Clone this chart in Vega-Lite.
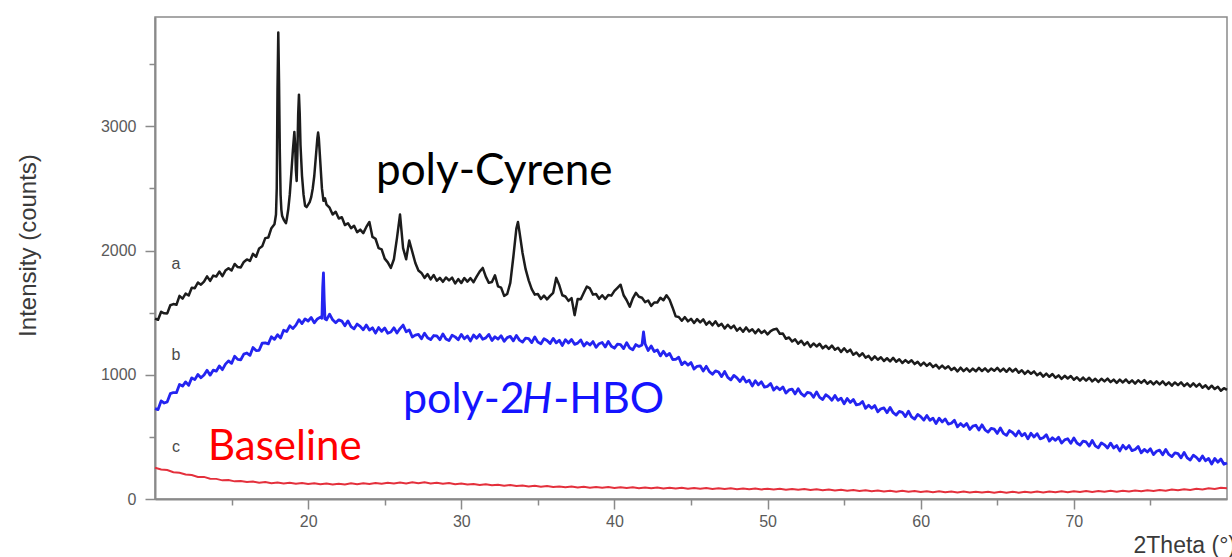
{
  "$schema": "https://vega.github.io/schema/vega-lite/v6.json",
  "width": 1072,
  "height": 482,
  "autosize": {"type": "none"},
  "padding": {"left": 155, "top": 17, "right": 5, "bottom": 58},
  "background": "white",
  "config": {
    "view": {"stroke": "#8a8a8a", "strokeWidth": 1.5},
    "axis": {"grid": false, "domainColor": "#8a8a8a", "domainWidth": 2, "tickColor": "#8a8a8a", "tickWidth": 1.5, "labelColor": "#5a5a5a", "labelFont": "Liberation Sans", "labelFontSize": 16, "titleFont": "Liberation Sans", "titleFontSize": 24, "titleFontWeight": "normal", "titleColor": "#3a3a3a"}
  },
  "datasets": {
    "a": [
      {"t":10,"v":1452},{"t":10.2,"v":1443},{"t":10.4,"v":1507},{"t":10.6,"v":1495},{"t":10.8,"v":1494},{"t":11,"v":1560},{"t":11.2,"v":1569},{"t":11.4,"v":1563},{"t":11.6,"v":1635},{"t":11.8,"v":1613},
      {"t":12,"v":1653},{"t":12.2,"v":1638},{"t":12.4,"v":1701},{"t":12.6,"v":1697},{"t":12.8,"v":1743},{"t":13,"v":1725},{"t":13.2,"v":1749},{"t":13.4,"v":1792},{"t":13.6,"v":1756},{"t":13.8,"v":1798},
      {"t":14,"v":1791},{"t":14.2,"v":1831},{"t":14.4,"v":1794},{"t":14.6,"v":1839},{"t":14.8,"v":1858},{"t":15,"v":1839},{"t":15.2,"v":1892},{"t":15.4,"v":1867},{"t":15.6,"v":1864},{"t":15.8,"v":1908},
      {"t":16,"v":1928},{"t":16.2,"v":1916},{"t":16.4,"v":1974},{"t":16.6,"v":1950},{"t":16.8,"v":2017},{"t":17,"v":2034},{"t":17.2,"v":2100},{"t":17.4,"v":2105},{"t":17.6,"v":2180},{"t":17.8,"v":2212},
      {"t":17.85,"v":2250},{"t":17.9,"v":2290},{"t":17.95,"v":2500},{"t":18,"v":3300},{"t":18.05,"v":3755},{"t":18.1,"v":3350},{"t":18.15,"v":2800},{"t":18.2,"v":2450},{"t":18.25,"v":2330},{"t":18.3,"v":2280},
      {"t":18.4,"v":2250},{"t":18.5,"v":2230},{"t":18.55,"v":2220},{"t":18.6,"v":2250},{"t":18.7,"v":2330},{"t":18.8,"v":2450},{"t":18.9,"v":2620},{"t":19,"v":2800},{"t":19.1,"v":2955},{"t":19.15,"v":2850},
      {"t":19.2,"v":2650},{"t":19.25,"v":2560},{"t":19.3,"v":2800},{"t":19.35,"v":3100},{"t":19.4,"v":3255},{"t":19.45,"v":3100},{"t":19.5,"v":2850},{"t":19.6,"v":2600},{"t":19.7,"v":2450},{"t":19.8,"v":2360},
      {"t":19.9,"v":2350},{"t":20,"v":2370},{"t":20.1,"v":2390},{"t":20.2,"v":2430},{"t":20.3,"v":2500},{"t":20.4,"v":2600},{"t":20.5,"v":2750},{"t":20.6,"v":2900},{"t":20.65,"v":2950},{"t":20.7,"v":2900},
      {"t":20.8,"v":2700},{"t":20.9,"v":2500},{"t":21,"v":2400},{"t":21.1,"v":2420},{"t":21.2,"v":2370},{"t":21.4,"v":2345},{"t":21.6,"v":2290},{"t":21.8,"v":2312},{"t":22,"v":2258},{"t":22.2,"v":2268},
      {"t":22.4,"v":2205},{"t":22.6,"v":2220},{"t":22.8,"v":2180},{"t":23,"v":2200},{"t":23.2,"v":2148},{"t":23.4,"v":2168},{"t":23.6,"v":2140},{"t":23.8,"v":2190},{"t":24,"v":2230},{"t":24.2,"v":2110},
      {"t":24.4,"v":2095},{"t":24.6,"v":2020},{"t":24.8,"v":2010},{"t":25,"v":1935},{"t":25.2,"v":1905},{"t":25.4,"v":1860},{"t":25.6,"v":1930},{"t":25.8,"v":2100},{"t":26,"v":2290},{"t":26.2,"v":2020},
      {"t":26.4,"v":1930},{"t":26.6,"v":2080},{"t":26.8,"v":1990},{"t":27,"v":1900},{"t":27.2,"v":1840},{"t":27.4,"v":1820},{"t":27.6,"v":1780},{"t":27.8,"v":1810},{"t":28,"v":1768},{"t":28.2,"v":1803},
      {"t":28.4,"v":1757},{"t":28.6,"v":1780},{"t":28.8,"v":1748},{"t":29,"v":1783},{"t":29.2,"v":1760},{"t":29.4,"v":1782},{"t":29.6,"v":1735},{"t":29.8,"v":1770},{"t":30,"v":1739},{"t":30.2,"v":1779},
      {"t":30.4,"v":1750},{"t":30.6,"v":1778},{"t":30.8,"v":1745},{"t":31,"v":1790},{"t":31.2,"v":1830},{"t":31.4,"v":1860},{"t":31.6,"v":1790},{"t":31.8,"v":1740},{"t":32,"v":1747},{"t":32.2,"v":1800},
      {"t":32.4,"v":1712},{"t":32.6,"v":1702},{"t":32.8,"v":1635},{"t":33,"v":1650},{"t":33.2,"v":1740},{"t":33.4,"v":1950},{"t":33.6,"v":2180},{"t":33.7,"v":2230},{"t":33.8,"v":2150},{"t":34,"v":1980},
      {"t":34.2,"v":1850},{"t":34.4,"v":1760},{"t":34.6,"v":1690},{"t":34.8,"v":1645},{"t":35,"v":1650},{"t":35.2,"v":1610},{"t":35.4,"v":1637},{"t":35.6,"v":1607},{"t":35.8,"v":1635},{"t":36,"v":1660},
      {"t":36.2,"v":1780},{"t":36.4,"v":1720},{"t":36.6,"v":1640},{"t":36.8,"v":1630},{"t":37,"v":1595},{"t":37.2,"v":1617},{"t":37.4,"v":1480},{"t":37.6,"v":1610},{"t":37.8,"v":1608},{"t":38,"v":1660},
      {"t":38.2,"v":1710},{"t":38.4,"v":1695},{"t":38.6,"v":1645},{"t":38.8,"v":1650},{"t":39,"v":1612},{"t":39.2,"v":1640},{"t":39.4,"v":1610},{"t":39.6,"v":1642},{"t":39.8,"v":1637},{"t":40,"v":1675},
      {"t":40.2,"v":1700},{"t":40.4,"v":1725},{"t":40.6,"v":1640},{"t":40.8,"v":1600},{"t":41,"v":1548},{"t":41.2,"v":1615},{"t":41.4,"v":1660},{"t":41.6,"v":1628},{"t":41.8,"v":1620},{"t":42,"v":1585},
      {"t":42.2,"v":1598},{"t":42.4,"v":1555},{"t":42.6,"v":1582},{"t":42.8,"v":1582},{"t":43,"v":1620},{"t":43.2,"v":1600},{"t":43.4,"v":1640},{"t":43.6,"v":1605},{"t":43.8,"v":1540},{"t":44,"v":1470},
      {"t":44.2,"v":1465},{"t":44.4,"v":1435},{"t":44.6,"v":1464},{"t":44.8,"v":1430},{"t":45,"v":1450},{"t":45.2,"v":1417},{"t":45.4,"v":1448},{"t":45.6,"v":1422},{"t":45.8,"v":1446},{"t":46,"v":1404},
      {"t":46.2,"v":1428},{"t":46.4,"v":1398},{"t":46.6,"v":1430},{"t":46.8,"v":1393},{"t":47,"v":1410},{"t":47.2,"v":1373},{"t":47.4,"v":1403},{"t":47.6,"v":1375},{"t":47.8,"v":1396},{"t":48,"v":1355},
      {"t":48.2,"v":1377},{"t":48.4,"v":1346},{"t":48.6,"v":1381},{"t":48.8,"v":1348},{"t":49,"v":1366},{"t":49.2,"v":1335},{"t":49.4,"v":1365},{"t":49.6,"v":1336},{"t":49.8,"v":1355},{"t":50,"v":1325},
      {"t":50.2,"v":1352},{"t":50.4,"v":1365},{"t":50.6,"v":1370},{"t":50.8,"v":1330},{"t":51,"v":1332},{"t":51.2,"v":1290},{"t":51.4,"v":1300},{"t":51.6,"v":1268},{"t":51.8,"v":1285},{"t":52,"v":1250},
      {"t":52.2,"v":1274},{"t":52.4,"v":1240},{"t":52.6,"v":1263},{"t":52.8,"v":1224},{"t":53,"v":1252},{"t":53.2,"v":1228},{"t":53.4,"v":1250},{"t":53.6,"v":1213},{"t":53.8,"v":1234},{"t":54,"v":1208},
      {"t":54.2,"v":1235},{"t":54.4,"v":1201},{"t":54.6,"v":1218},{"t":54.8,"v":1184},{"t":55,"v":1213},{"t":55.2,"v":1183},{"t":55.4,"v":1202},{"t":55.6,"v":1161},{"t":55.8,"v":1179},{"t":56,"v":1150},
      {"t":56.2,"v":1173},{"t":56.4,"v":1138},{"t":56.6,"v":1152},{"t":56.8,"v":1120},{"t":57,"v":1148},{"t":57.2,"v":1121},{"t":57.4,"v":1141},{"t":57.6,"v":1111},{"t":57.8,"v":1133},{"t":58,"v":1108},
      {"t":58.2,"v":1136},{"t":58.4,"v":1105},{"t":58.6,"v":1125},{"t":58.8,"v":1095},{"t":59,"v":1118},{"t":59.2,"v":1097},{"t":59.4,"v":1117},{"t":59.6,"v":1086},{"t":59.8,"v":1104},{"t":60,"v":1075},
      {"t":60.2,"v":1098},{"t":60.4,"v":1072},{"t":60.6,"v":1093},{"t":60.8,"v":1062},{"t":61,"v":1080},{"t":61.2,"v":1051},{"t":61.4,"v":1074},{"t":61.6,"v":1050},{"t":61.8,"v":1069},{"t":62,"v":1038},
      {"t":62.2,"v":1056},{"t":62.4,"v":1027},{"t":62.6,"v":1057},{"t":62.8,"v":1029},{"t":63,"v":1051},{"t":63.2,"v":1025},{"t":63.4,"v":1050},{"t":63.6,"v":1028},{"t":63.8,"v":1055},{"t":64,"v":1030},
      {"t":64.2,"v":1052},{"t":64.4,"v":1025},{"t":64.6,"v":1050},{"t":64.8,"v":1032},{"t":65,"v":1055},{"t":65.2,"v":1027},{"t":65.4,"v":1049},{"t":65.6,"v":1024},{"t":65.8,"v":1051},{"t":66,"v":1026},
      {"t":66.2,"v":1048},{"t":66.4,"v":1017},{"t":66.6,"v":1036},{"t":66.8,"v":1007},{"t":67,"v":1031},{"t":67.2,"v":1008},{"t":67.4,"v":1027},{"t":67.6,"v":996},{"t":67.8,"v":1015},{"t":68,"v":985},
      {"t":68.2,"v":1009},{"t":68.4,"v":984},{"t":68.6,"v":1006},{"t":68.8,"v":976},{"t":69,"v":995},{"t":69.2,"v":967},{"t":69.4,"v":992},{"t":69.6,"v":970},{"t":69.8,"v":990},{"t":70,"v":960},
      {"t":70.2,"v":980},{"t":70.4,"v":953},{"t":70.6,"v":978},{"t":70.8,"v":953},{"t":71,"v":976},{"t":71.2,"v":947},{"t":71.4,"v":968},{"t":71.6,"v":942},{"t":71.8,"v":968},{"t":72,"v":947},
      {"t":72.2,"v":969},{"t":72.4,"v":941},{"t":72.6,"v":961},{"t":72.8,"v":935},{"t":73,"v":961},{"t":73.2,"v":938},{"t":73.4,"v":962},{"t":73.6,"v":934},{"t":73.8,"v":955},{"t":74,"v":929},
      {"t":74.2,"v":956},{"t":74.4,"v":935},{"t":74.6,"v":957},{"t":74.8,"v":928},{"t":75,"v":948},{"t":75.2,"v":922},{"t":75.4,"v":947},{"t":75.6,"v":923},{"t":75.8,"v":947},{"t":76,"v":918},
      {"t":76.2,"v":939},{"t":76.4,"v":912},{"t":76.6,"v":938},{"t":76.8,"v":917},{"t":77,"v":939},{"t":77.2,"v":910},{"t":77.4,"v":931},{"t":77.6,"v":905},{"t":77.8,"v":931},{"t":78,"v":905},
      {"t":78.2,"v":927},{"t":78.4,"v":896},{"t":78.6,"v":915},{"t":78.8,"v":887},{"t":79,"v":912},{"t":79.2,"v":885},{"t":79.4,"v":903},{"t":79.6,"v":872},{"t":79.8,"v":892},{"t":80,"v":878}
    ],
    "b": [
      {"t":10,"v":727},{"t":10.2,"v":720},{"t":10.4,"v":790},{"t":10.6,"v":773},{"t":10.8,"v":782},{"t":11,"v":848},{"t":11.2,"v":857},{"t":11.4,"v":856},{"t":11.6,"v":922},{"t":11.8,"v":909},
      {"t":12,"v":943},{"t":12.2,"v":915},{"t":12.4,"v":975},{"t":12.6,"v":961},{"t":12.8,"v":1002},{"t":13,"v":976},{"t":13.2,"v":998},{"t":13.4,"v":1036},{"t":13.6,"v":997},{"t":13.8,"v":1037},
      {"t":14,"v":1029},{"t":14.2,"v":1071},{"t":14.4,"v":1041},{"t":14.6,"v":1086},{"t":14.8,"v":1112},{"t":15,"v":1092},{"t":15.2,"v":1149},{"t":15.4,"v":1124},{"t":15.6,"v":1121},{"t":15.8,"v":1166},
      {"t":16,"v":1175},{"t":16.2,"v":1156},{"t":16.4,"v":1219},{"t":16.6,"v":1195},{"t":16.8,"v":1197},{"t":17,"v":1255},{"t":17.2,"v":1257},{"t":17.4,"v":1249},{"t":17.6,"v":1306},{"t":17.8,"v":1285},
      {"t":18,"v":1322},{"t":18.2,"v":1296},{"t":18.4,"v":1358},{"t":18.6,"v":1348},{"t":18.8,"v":1394},{"t":19,"v":1372},{"t":19.2,"v":1400},{"t":19.4,"v":1444},{"t":19.6,"v":1412},{"t":19.8,"v":1450},
      {"t":20,"v":1433},{"t":20.2,"v":1461},{"t":20.4,"v":1418},{"t":20.6,"v":1449},{"t":20.8,"v":1464},{"t":20.9,"v":1455},{"t":20.95,"v":1700},{"t":21,"v":1821},{"t":21.05,"v":1600},{"t":21.1,"v":1450},
      {"t":21.2,"v":1442},{"t":21.4,"v":1488},{"t":21.6,"v":1442},{"t":21.8,"v":1418},{"t":22,"v":1442},{"t":22.2,"v":1432},{"t":22.4,"v":1394},{"t":22.6,"v":1434},{"t":22.8,"v":1388},{"t":23,"v":1370},
      {"t":23.2,"v":1408},{"t":23.4,"v":1390},{"t":23.6,"v":1362},{"t":23.8,"v":1400},{"t":24,"v":1360},{"t":24.2,"v":1378},{"t":24.4,"v":1335},{"t":24.6,"v":1380},{"t":24.8,"v":1350},{"t":25,"v":1376},
      {"t":25.2,"v":1334},{"t":25.4,"v":1344},{"t":25.6,"v":1378},{"t":25.8,"v":1336},{"t":26,"v":1372},{"t":26.2,"v":1400},{"t":26.4,"v":1346},{"t":26.6,"v":1361},{"t":26.8,"v":1304},{"t":27,"v":1319},
      {"t":27.2,"v":1325},{"t":27.4,"v":1290},{"t":27.6,"v":1335},{"t":27.8,"v":1298},{"t":28,"v":1283},{"t":28.2,"v":1316},{"t":28.4,"v":1313},{"t":28.6,"v":1282},{"t":28.8,"v":1329},{"t":29,"v":1288},
      {"t":29.2,"v":1275},{"t":29.4,"v":1318},{"t":29.6,"v":1305},{"t":29.8,"v":1282},{"t":30,"v":1325},{"t":30.2,"v":1290},{"t":30.4,"v":1312},{"t":30.6,"v":1272},{"t":30.8,"v":1320},{"t":31,"v":1294},
      {"t":31.2,"v":1324},{"t":31.4,"v":1286},{"t":31.6,"v":1297},{"t":31.8,"v":1325},{"t":32,"v":1276},{"t":32.2,"v":1306},{"t":32.4,"v":1287},{"t":32.6,"v":1314},{"t":32.8,"v":1270},{"t":33,"v":1299},
      {"t":33.2,"v":1309},{"t":33.4,"v":1273},{"t":33.6,"v":1317},{"t":33.8,"v":1279},{"t":34,"v":1263},{"t":34.2,"v":1295},{"t":34.4,"v":1291},{"t":34.6,"v":1259},{"t":34.8,"v":1305},{"t":35,"v":1263},
      {"t":35.2,"v":1249},{"t":35.4,"v":1290},{"t":35.6,"v":1276},{"t":35.8,"v":1252},{"t":36,"v":1293},{"t":36.2,"v":1257},{"t":36.4,"v":1278},{"t":36.6,"v":1236},{"t":36.8,"v":1283},{"t":37,"v":1256},
      {"t":37.2,"v":1284},{"t":37.4,"v":1245},{"t":37.6,"v":1255},{"t":37.8,"v":1281},{"t":38,"v":1232},{"t":38.2,"v":1260},{"t":38.4,"v":1240},{"t":38.6,"v":1267},{"t":38.8,"v":1221},{"t":39,"v":1250},
      {"t":39.2,"v":1260},{"t":39.4,"v":1224},{"t":39.6,"v":1268},{"t":39.8,"v":1230},{"t":40,"v":1214},{"t":40.2,"v":1246},{"t":40.4,"v":1243},{"t":40.6,"v":1211},{"t":40.8,"v":1258},{"t":41,"v":1216},
      {"t":41.2,"v":1202},{"t":41.4,"v":1243},{"t":41.6,"v":1228},{"t":41.8,"v":1240},{"t":41.9,"v":1345},{"t":42,"v":1250},{"t":42.2,"v":1195},{"t":42.4,"v":1232},{"t":42.6,"v":1187},{"t":42.8,"v":1200},
      {"t":43,"v":1152},{"t":43.2,"v":1189},{"t":43.4,"v":1152},{"t":43.6,"v":1172},{"t":43.8,"v":1123},{"t":44,"v":1124},{"t":44.2,"v":1141},{"t":44.4,"v":1082},{"t":44.6,"v":1104},{"t":44.8,"v":1078},
      {"t":45,"v":1098},{"t":45.2,"v":1046},{"t":45.4,"v":1068},{"t":45.6,"v":1072},{"t":45.8,"v":1030},{"t":46,"v":1068},{"t":46.2,"v":1025},{"t":46.4,"v":1004},{"t":46.6,"v":1031},{"t":46.8,"v":1022},
      {"t":47,"v":985},{"t":47.2,"v":1026},{"t":47.4,"v":979},{"t":47.6,"v":959},{"t":47.8,"v":995},{"t":48,"v":975},{"t":48.2,"v":946},{"t":48.4,"v":982},{"t":48.6,"v":941},{"t":48.8,"v":956},
      {"t":49,"v":910},{"t":49.2,"v":952},{"t":49.4,"v":919},{"t":49.6,"v":943},{"t":49.8,"v":900},{"t":50,"v":907},{"t":50.2,"v":930},{"t":50.4,"v":877},{"t":50.6,"v":902},{"t":50.8,"v":879},
      {"t":51,"v":902},{"t":51.2,"v":853},{"t":51.4,"v":878},{"t":51.6,"v":885},{"t":51.8,"v":846},{"t":52,"v":888},{"t":52.2,"v":848},{"t":52.4,"v":829},{"t":52.6,"v":859},{"t":52.8,"v":853},
      {"t":53,"v":819},{"t":53.2,"v":862},{"t":53.4,"v":818},{"t":53.6,"v":801},{"t":53.8,"v":839},{"t":54,"v":822},{"t":54.2,"v":795},{"t":54.4,"v":834},{"t":54.6,"v":794},{"t":54.8,"v":812},
      {"t":55,"v":767},{"t":55.2,"v":809},{"t":55.4,"v":777},{"t":55.6,"v":801},{"t":55.8,"v":757},{"t":56,"v":763},{"t":56.2,"v":785},{"t":56.4,"v":730},{"t":56.6,"v":754},{"t":56.8,"v":730},
      {"t":57,"v":752},{"t":57.2,"v":702},{"t":57.4,"v":726},{"t":57.6,"v":733},{"t":57.8,"v":695},{"t":58,"v":736},{"t":58.2,"v":695},{"t":58.4,"v":676},{"t":58.6,"v":705},{"t":58.8,"v":698},
      {"t":59,"v":663},{"t":59.2,"v":706},{"t":59.4,"v":661},{"t":59.6,"v":643},{"t":59.8,"v":681},{"t":60,"v":663},{"t":60.2,"v":635},{"t":60.4,"v":673},{"t":60.6,"v":634},{"t":60.8,"v":651},
      {"t":61,"v":607},{"t":61.2,"v":650},{"t":61.4,"v":620},{"t":61.6,"v":645},{"t":61.8,"v":603},{"t":62,"v":610},{"t":62.2,"v":634},{"t":62.4,"v":581},{"t":62.6,"v":607},{"t":62.8,"v":584},
      {"t":63,"v":608},{"t":63.2,"v":560},{"t":63.4,"v":586},{"t":63.6,"v":594},{"t":63.8,"v":555},{"t":64,"v":597},{"t":64.2,"v":557},{"t":64.4,"v":539},{"t":64.6,"v":569},{"t":64.8,"v":562},
      {"t":65,"v":528},{"t":65.2,"v":572},{"t":65.4,"v":528},{"t":65.6,"v":512},{"t":65.8,"v":551},{"t":66,"v":535},{"t":66.2,"v":508},{"t":66.4,"v":548},{"t":66.6,"v":509},{"t":66.8,"v":528},
      {"t":67,"v":484},{"t":67.2,"v":529},{"t":67.4,"v":499},{"t":67.6,"v":526},{"t":67.8,"v":484},{"t":68,"v":493},{"t":68.2,"v":518},{"t":68.4,"v":466},{"t":68.6,"v":493},{"t":68.8,"v":472},
      {"t":69,"v":497},{"t":69.2,"v":450},{"t":69.4,"v":476},{"t":69.6,"v":485},{"t":69.8,"v":448},{"t":70,"v":491},{"t":70.2,"v":451},{"t":70.4,"v":434},{"t":70.6,"v":465},{"t":70.8,"v":459},
      {"t":71,"v":426},{"t":71.2,"v":471},{"t":71.4,"v":428},{"t":71.6,"v":412},{"t":71.8,"v":452},{"t":72,"v":436},{"t":72.2,"v":410},{"t":72.4,"v":450},{"t":72.6,"v":411},{"t":72.8,"v":430},
      {"t":73,"v":387},{"t":73.2,"v":432},{"t":73.4,"v":403},{"t":73.6,"v":430},{"t":73.8,"v":389},{"t":74,"v":398},{"t":74.2,"v":423},{"t":74.4,"v":372},{"t":74.6,"v":399},{"t":74.8,"v":378},
      {"t":75,"v":404},{"t":75.2,"v":357},{"t":75.4,"v":384},{"t":75.6,"v":393},{"t":75.8,"v":356},{"t":76,"v":399},{"t":76.2,"v":359},{"t":76.4,"v":341},{"t":76.6,"v":371},{"t":76.8,"v":365},
      {"t":77,"v":331},{"t":77.2,"v":375},{"t":77.4,"v":331},{"t":77.6,"v":314},{"t":77.8,"v":353},{"t":78,"v":335},{"t":78.2,"v":308},{"t":78.4,"v":347},{"t":78.6,"v":308},{"t":78.8,"v":326},
      {"t":79,"v":282},{"t":79.2,"v":326},{"t":79.4,"v":296},{"t":79.6,"v":322},{"t":79.8,"v":280},{"t":80,"v":290}
    ],
    "c": [
      {"t":10,"v":252},{"t":10.4,"v":238},{"t":10.8,"v":233},{"t":11.2,"v":215},{"t":11.6,"v":212},{"t":12,"v":198},{"t":12.4,"v":193},{"t":12.8,"v":178},{"t":13.2,"v":178},{"t":13.6,"v":163},
      {"t":14,"v":162},{"t":14.4,"v":150},{"t":14.8,"v":152},{"t":15.2,"v":142},{"t":15.6,"v":145},{"t":16,"v":137},{"t":16.4,"v":140},{"t":16.8,"v":131},{"t":17.2,"v":136},{"t":17.6,"v":127},
      {"t":18,"v":133},{"t":18.4,"v":124},{"t":18.8,"v":131},{"t":19.2,"v":122},{"t":19.6,"v":128},{"t":20,"v":120},{"t":20.4,"v":127},{"t":20.8,"v":118},{"t":21.2,"v":124},{"t":21.6,"v":116},
      {"t":22,"v":123},{"t":22.4,"v":117},{"t":22.8,"v":126},{"t":23.2,"v":119},{"t":23.6,"v":127},{"t":24,"v":121},{"t":24.4,"v":129},{"t":24.8,"v":122},{"t":25.2,"v":130},{"t":25.6,"v":124},
      {"t":26,"v":132},{"t":26.4,"v":125},{"t":26.8,"v":134},{"t":27.2,"v":126},{"t":27.6,"v":135},{"t":28,"v":125},{"t":28.4,"v":131},{"t":28.8,"v":122},{"t":29.2,"v":128},{"t":29.6,"v":119},
      {"t":30,"v":124},{"t":30.4,"v":116},{"t":30.8,"v":121},{"t":31.2,"v":113},{"t":31.6,"v":118},{"t":32,"v":110},{"t":32.4,"v":115},{"t":32.8,"v":107},{"t":33.2,"v":112},{"t":33.6,"v":104},
      {"t":34,"v":109},{"t":34.4,"v":101},{"t":34.8,"v":106},{"t":35.2,"v":99},{"t":35.6,"v":104},{"t":36,"v":96},{"t":36.4,"v":101},{"t":36.8,"v":94},{"t":37.2,"v":100},{"t":37.6,"v":92},
      {"t":38,"v":98},{"t":38.4,"v":91},{"t":38.8,"v":97},{"t":39.2,"v":90},{"t":39.6,"v":96},{"t":40,"v":89},{"t":40.4,"v":95},{"t":40.8,"v":88},{"t":41.2,"v":94},{"t":41.6,"v":87},
      {"t":42,"v":93},{"t":42.4,"v":86},{"t":42.8,"v":92},{"t":43.2,"v":85},{"t":43.6,"v":91},{"t":44,"v":84},{"t":44.4,"v":90},{"t":44.8,"v":83},{"t":45.2,"v":89},{"t":45.6,"v":82},
      {"t":46,"v":88},{"t":46.4,"v":81},{"t":46.8,"v":87},{"t":47.2,"v":80},{"t":47.6,"v":86},{"t":48,"v":79},{"t":48.4,"v":85},{"t":48.8,"v":78},{"t":49.2,"v":84},{"t":49.6,"v":77},
      {"t":50,"v":83},{"t":50.4,"v":76},{"t":50.8,"v":82},{"t":51.2,"v":75},{"t":51.6,"v":81},{"t":52,"v":74},{"t":52.4,"v":80},{"t":52.8,"v":72},{"t":53.2,"v":78},{"t":53.6,"v":71},
      {"t":54,"v":77},{"t":54.4,"v":69},{"t":54.8,"v":75},{"t":55.2,"v":67},{"t":55.6,"v":73},{"t":56,"v":65},{"t":56.4,"v":71},{"t":56.8,"v":63},{"t":57.2,"v":69},{"t":57.6,"v":61},
      {"t":58,"v":67},{"t":58.4,"v":59},{"t":58.8,"v":66},{"t":59.2,"v":58},{"t":59.6,"v":64},{"t":60,"v":56},{"t":60.4,"v":63},{"t":60.8,"v":55},{"t":61.2,"v":62},{"t":61.6,"v":54},
      {"t":62,"v":61},{"t":62.4,"v":53},{"t":62.8,"v":60},{"t":63.2,"v":52},{"t":63.6,"v":59},{"t":64,"v":52},{"t":64.4,"v":59},{"t":64.8,"v":51},{"t":65.2,"v":58},{"t":65.6,"v":51},
      {"t":66,"v":58},{"t":66.4,"v":51},{"t":66.8,"v":59},{"t":67.2,"v":52},{"t":67.6,"v":60},{"t":68,"v":53},{"t":68.4,"v":61},{"t":68.8,"v":54},{"t":69.2,"v":62},{"t":69.6,"v":55},
      {"t":70,"v":63},{"t":70.4,"v":56},{"t":70.8,"v":64},{"t":71.2,"v":57},{"t":71.6,"v":65},{"t":72,"v":58},{"t":72.4,"v":66},{"t":72.8,"v":59},{"t":73.2,"v":67},{"t":73.6,"v":61},
      {"t":74,"v":69},{"t":74.4,"v":63},{"t":74.8,"v":71},{"t":75.2,"v":65},{"t":75.6,"v":73},{"t":76,"v":67},{"t":76.4,"v":76},{"t":76.8,"v":70},{"t":77.2,"v":79},{"t":77.6,"v":73},
      {"t":78,"v":82},{"t":78.4,"v":76},{"t":78.8,"v":86},{"t":79.2,"v":80},{"t":79.6,"v":90},{"t":80,"v":86}
    ]
  },
  "encoding": {
    "x": {
      "field": "t", "type": "quantitative",
      "scale": {"domain": [10, 80], "nice": false, "zero": false},
      "axis": {
        "title": "2Theta (°)",
        "values": [15, 20, 25, 30, 35, 40, 45, 50, 55, 60, 65, 70, 75],
        "labelExpr": "datum.value % 10 === 0 ? datum.label : ''",
        "labelFontSize": 16,
        "tickSize": {"condition": {"test": "datum.value % 10 === 0", "value": 10}, "value": 6},
        "labelPadding": 4,
        "titleX": 978, "titleY": 53, "titleAlign": "left", "titleBaseline": "alphabetic", "titleFontSize": 23, "titleAnchor": null
      }
    },
    "y": {
      "field": "v", "type": "quantitative",
      "scale": {"domain": [0, 3880], "nice": false},
      "axis": {
        "title": "Intensity (counts)",
        "values": [0, 500, 1000, 1500, 2000, 2500, 3000, 3500],
        "format": "d",
        "labelExpr": "datum.value % 1000 === 0 ? datum.label : ''",
        "labelFontSize": 16,
        "tickSize": {"condition": {"test": "datum.value % 1000 === 0", "value": 10}, "value": 6},
        "labelPadding": 9,
        "titleX": -127, "titleY": 228, "titleAngle": -90, "titleAlign": "center", "titleBaseline": "middle"
      }
    }
  },
  "layer": [
    {"data": {"name": "a"}, "mark": {"type": "line", "color": "#1c1c1c", "strokeWidth": 2.5, "strokeJoin": "round"}},
    {"data": {"name": "b"}, "mark": {"type": "line", "color": "#2424f0", "strokeWidth": 2.8, "strokeJoin": "round"}},
    {"data": {"name": "c"}, "mark": {"type": "line", "color": "#e4303c", "strokeWidth": 2}},
    {"data": {"values": [{"t": 11.37, "v": 1894, "s": "a"}, {"t": 11.37, "v": 1160, "s": "b"}, {"t": 11.37, "v": 419, "s": "c"}]},
     "mark": {"type": "text", "font": "Liberation Sans", "fontSize": 16, "color": "#4a4a4a", "align": "center", "baseline": "middle"},
     "encoding": {"text": {"field": "s"}}},
    {"data": {"values": [{"t": 24.43, "v": 2528, "s": "poly-Cyrene"}]},
     "mark": {"type": "text", "font": "Lato", "fontSize": 44, "color": "#000000", "align": "left", "baseline": "alphabetic"},
     "encoding": {"text": {"field": "s"}}},
    {"data": {"values": [{"t": 26.19, "v": 692, "s": "poly-2"}, {"t": 36.0, "v": 692, "s": "-HBO"}]},
     "mark": {"type": "text", "font": "Lato", "fontSize": 43, "color": "#1414ff", "align": "left", "baseline": "alphabetic"},
     "encoding": {"text": {"field": "s"}}},
    {"data": {"values": [{"t": 33.95, "v": 692, "s": "H"}]},
     "mark": {"type": "text", "font": "Lato", "fontSize": 43, "fontStyle": "italic", "color": "#1414ff", "align": "left", "baseline": "alphabetic"},
     "encoding": {"text": {"field": "s"}}},
    {"data": {"values": [{"t": 13.46, "v": 314, "s": "Baseline"}]},
     "mark": {"type": "text", "font": "Lato", "fontSize": 42, "color": "#ff0000", "align": "left", "baseline": "alphabetic"},
     "encoding": {"text": {"field": "s"}}}
  ]
}
